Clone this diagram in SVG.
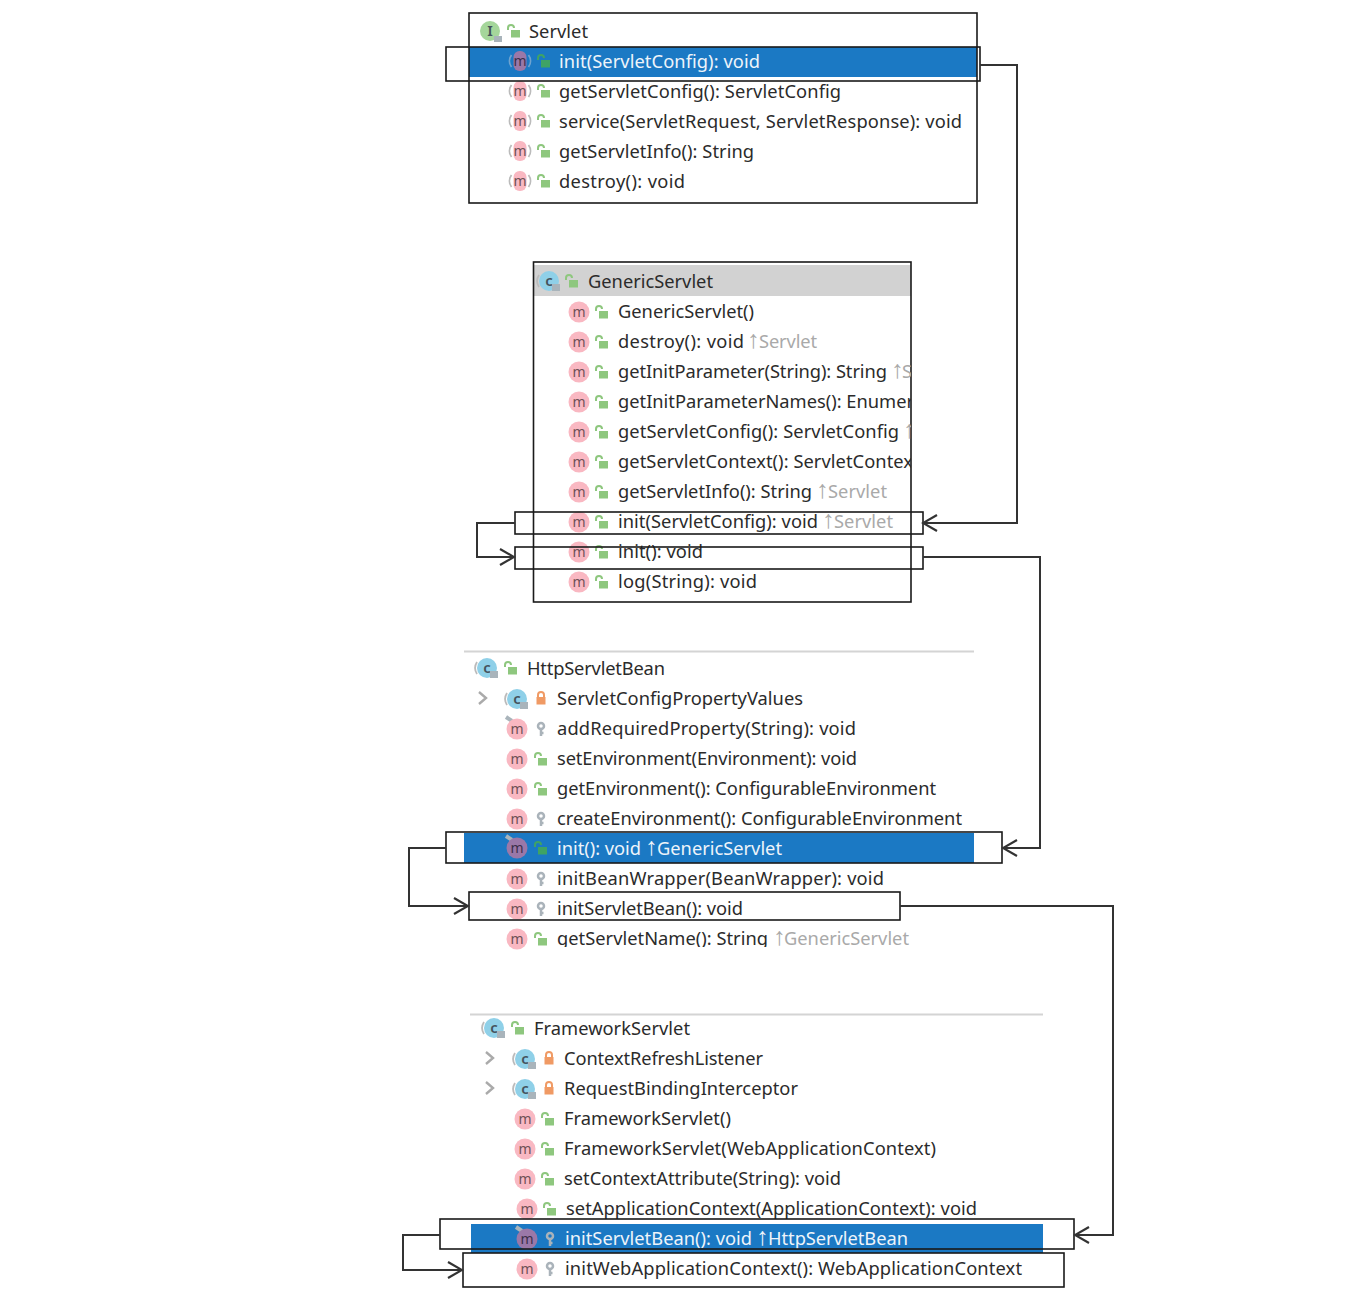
<svg xmlns="http://www.w3.org/2000/svg" width="1371" height="1310" viewBox="0 0 1371 1310">
<style>
text{font-family:"Noto Sans","Liberation Sans",sans-serif;font-size:18.3px;fill:#2b2b2b}
.w{fill:#eef4fa}
.g{fill:#a9a9a9}
.ar{font-family:"Liberation Sans",sans-serif;font-size:25px}
.mt{font-size:14px;fill:#6e5056;text-anchor:middle}
.ct{font-size:15px;font-weight:600;fill:#44525c;text-anchor:middle}
.frame{fill:none;stroke:#1a1a1a;stroke-width:1.6}
.conn{fill:none;stroke:#333;stroke-width:2}
.sep{stroke:#d4d4d4;stroke-width:2}
.blue{fill:#1b79c4}
</style>
<defs>
<marker id="arr" viewBox="0 0 20 20" refX="18" refY="10" markerWidth="20" markerHeight="20" markerUnits="userSpaceOnUse" orient="auto"><path d="M4 2 L18 10 L4 18" fill="none" stroke="#333" stroke-width="2.2"/></marker>
<clipPath id="gc"><rect x="534" y="262" width="377" height="340"/></clipPath>
<clipPath id="hc"><rect x="460" y="925" width="520" height="22"/></clipPath>
<g id="m"><circle r="10.500" fill="#f9b8c2"/><text class="mt" y="4.500">m</text></g>
<g id="mb"><path d="M-8.500 -6 A10 10 0 0 0 -8.500 6" fill="none" stroke="#bbb" stroke-width="1.800"/><path d="M8.500 -6 A10 10 0 0 1 8.500 6" fill="none" stroke="#bbb" stroke-width="1.800"/><rect x="-6.500" y="-10" width="13" height="20" rx="6" fill="#f9b8c2"/><text class="mt" y="4.500">m</text></g>
<g id="ms"><path d="M-8.500 -6 A10 10 0 0 0 -8.500 6" fill="none" stroke="#6fa3cf" stroke-width="1.800"/><path d="M8.500 -6 A10 10 0 0 1 8.500 6" fill="none" stroke="#6fa3cf" stroke-width="1.800"/><rect x="-6.500" y="-10" width="13" height="20" rx="6" fill="#9a78a8"/><text class="mt" y="4.500" style="fill:#3c2f4a">m</text></g>
<g id="mh"><path d="M-11 -12 L-5 -8" stroke="#a9b4bb" stroke-width="4"/><circle r="10.500" fill="#9a78a8"/><text class="mt" y="4.500" style="fill:#3c2f4a">m</text></g>
<g id="mo"><path d="M-11 -12 L-5 -8" stroke="#a9b4bb" stroke-width="4"/><circle r="10.500" fill="#f9b8c2"/><text class="mt" y="4.500">m</text></g>
<g id="u"><path d="M-5 -1 V-3 A3 3 0 0 1 1 -3" fill="none" stroke="#8ec77e" stroke-width="2"/><rect x="-2" y="-1" width="9" height="7.500" fill="#8ec77e"/></g>
<g id="ud"><path d="M-5 -1 V-3 A3 3 0 0 1 1 -3" fill="none" stroke="#3fa364" stroke-width="2"/><rect x="-2" y="-1" width="9" height="7.500" fill="#3fa364"/></g>
<g id="k"><circle cy="-3" r="3" fill="none" stroke="#aab3ba" stroke-width="2.500"/><path d="M0 0 V7 M0 4 H2.500" stroke="#aab3ba" stroke-width="2.500"/></g>
<g id="l"><path d="M-3 -1 V-3 A3 3 0 0 1 3 -3 V-1" fill="none" stroke="#f09a64" stroke-width="2"/><rect x="-4.500" y="-1" width="9" height="7.500" fill="#f09a64"/></g>
<g id="c"><circle r="10" fill="#8fd0e8"/><path d="M-10 -6 A11 11 0 0 0 -10 6" fill="none" stroke="#bbb" stroke-width="1.800"/><text class="ct" y="5">c</text><rect x="3" y="3" width="8" height="7" fill="#a9b4bb"/></g>
<path id="chev" d="M-4 -6 L3 0 L-4 6" fill="none" stroke="#aaa" stroke-width="2.400"/>
</defs>
<rect width="1371" height="1310" fill="#fff"/>

<g id="Servlet">
<rect class="blue" x="469" y="47" width="508" height="30"/>
<rect class="frame" x="469" y="13" width="508" height="190"/>
<circle cx="490" cy="31" r="10" fill="#a5d69b"/><text class="ct" x="490" y="36">I</text><rect x="494" y="36" width="8" height="6" fill="#a9b4bb"/>
<use href="#u" x="513" y="31"/><text x="529" y="37.500" textLength="59">Servlet</text>
<use href="#ms" x="520" y="61"/><use href="#ud" x="543" y="61"/><text class="w" x="559" y="67.500" textLength="201">init(ServletConfig): void</text>
<use href="#mb" x="520" y="91"/><use href="#u" x="543" y="91"/><text x="559" y="97.500" textLength="282">getServletConfig(): ServletConfig</text>
<use href="#mb" x="520" y="121"/><use href="#u" x="543" y="121"/><text x="559" y="127.500" textLength="403">service(ServletRequest, ServletResponse): void</text>
<use href="#mb" x="520" y="151"/><use href="#u" x="543" y="151"/><text x="559" y="157.500" textLength="195">getServletInfo(): String</text>
<use href="#mb" x="520" y="181"/><use href="#u" x="543" y="181"/><text x="559" y="187.500" textLength="126">destroy(): void</text>
<rect class="frame" x="446" y="47" width="534" height="34"/>
</g>

<g id="GenericServlet">
<rect x="534" y="265" width="377" height="31" fill="#d2d2d2"/>
<rect class="frame" x="533.500" y="262" width="377.500" height="340"/>
<use href="#c" x="549" y="281"/><use href="#u" x="571" y="281"/><text x="588" y="287.500" textLength="125">GenericServlet</text>
<g clip-path="url(#gc)">
<use href="#m" x="579" y="312"/><use href="#u" x="601" y="312"/><text x="618" y="317.500" textLength="136">GenericServlet()</text>
<use href="#m" x="579" y="342"/><use href="#u" x="601" y="342"/><text x="618" y="347.500"><tspan textLength="126">destroy(): void</tspan><tspan class="g ar" x="747">↑</tspan><tspan class="g" x="759" textLength="58">Servlet</tspan></text>
<use href="#m" x="579" y="372"/><use href="#u" x="601" y="372"/><text x="618" y="377.500"><tspan textLength="269">getInitParameter(String): String</tspan><tspan class="g ar" x="891">↑</tspan><tspan class="g" x="902">S</tspan></text>
<use href="#m" x="579" y="402"/><use href="#u" x="601" y="402"/><text x="618" y="407.500" textLength="296">getInitParameterNames(): Enumer</text>
<use href="#m" x="579" y="432"/><use href="#u" x="601" y="432"/><text x="618" y="437.500"><tspan textLength="281">getServletConfig(): ServletConfig</tspan><tspan class="g ar" x="903">↑</tspan></text>
<use href="#m" x="579" y="462"/><use href="#u" x="601" y="462"/><text x="618" y="467.500" textLength="295">getServletContext(): ServletContex</text>
<use href="#m" x="579" y="492"/><use href="#u" x="601" y="492"/><text x="618" y="497.500"><tspan textLength="194">getServletInfo(): String</tspan><tspan class="g ar" x="816">↑</tspan><tspan class="g" x="828" textLength="59">Servlet</tspan></text>
<use href="#m" x="579" y="522"/><use href="#u" x="601" y="522"/><text x="618" y="527.500"><tspan textLength="200">init(ServletConfig): void</tspan><tspan class="g ar" x="822">↑</tspan><tspan class="g" x="834" textLength="59">Servlet</tspan></text>
<use href="#m" x="579" y="552"/><use href="#u" x="601" y="552"/><text x="618" y="557.500" textLength="85">init(): void</text>
<use href="#m" x="579" y="582"/><use href="#u" x="601" y="582"/><text x="618" y="587.500" textLength="139">log(String): void</text>
</g>
<rect class="frame" x="515" y="512" width="408" height="22"/>
<rect class="frame" x="515" y="547" width="408" height="22"/>
</g>

<g id="HttpServletBean">
<path class="sep" d="M464 651.500 H974"/>
<rect class="blue" x="464" y="833" width="510" height="30"/>
<use href="#c" x="487" y="668"/><use href="#u" x="510" y="668"/><text x="527" y="674.500" textLength="138">HttpServletBean</text>
<use href="#chev" x="483" y="698"/><use href="#c" x="517" y="699"/><use href="#l" x="541" y="698"/><text x="557" y="704.500" textLength="246">ServletConfigPropertyValues</text>
<use href="#mo" x="517" y="729"/><use href="#k" x="541" y="729"/><text x="557" y="734.500" textLength="299">addRequiredProperty(String): void</text>
<use href="#m" x="517" y="759"/><use href="#u" x="540" y="759"/><text x="557" y="764.500" textLength="300">setEnvironment(Environment): void</text>
<use href="#m" x="517" y="789"/><use href="#u" x="540" y="789"/><text x="557" y="794.500" textLength="379">getEnvironment(): ConfigurableEnvironment</text>
<use href="#m" x="517" y="819"/><use href="#k" x="541" y="819"/><text x="557" y="824.500" textLength="405">createEnvironment(): ConfigurableEnvironment</text>
<use href="#mh" x="517" y="848"/><use href="#ud" x="540" y="848"/><text class="w" x="557" y="854.500"><tspan class="w" textLength="84">init(): void</tspan><tspan class="w ar" x="645">↑</tspan><tspan class="w" x="657" textLength="125">GenericServlet</tspan></text>
<use href="#m" x="517" y="879"/><use href="#k" x="541" y="879"/><text x="557" y="884.500" textLength="327">initBeanWrapper(BeanWrapper): void</text>
<use href="#m" x="517" y="909"/><use href="#k" x="541" y="909"/><text x="557" y="914.500" textLength="186">initServletBean(): void</text>
<use href="#m" x="517" y="939"/><use href="#u" x="540" y="939"/><text clip-path="url(#hc)" x="557" y="944.500"><tspan textLength="211">getServletName(): String</tspan><tspan class="g ar" x="773">↑</tspan><tspan class="g" x="784" textLength="125">GenericServlet</tspan></text>
<rect class="frame" x="446" y="832" width="556" height="31"/>
<rect class="frame" x="469" y="892" width="431" height="28"/>
</g>

<g id="FrameworkServlet">
<path class="sep" d="M470 1014.500 H1043"/>
<rect class="blue" x="471" y="1224" width="572" height="29"/>
<use href="#c" x="494" y="1028"/><use href="#u" x="517" y="1028"/><text x="534" y="1034.500" textLength="156">FrameworkServlet</text>
<use href="#chev" x="490" y="1058"/><use href="#c" x="525" y="1059"/><use href="#l" x="549" y="1058"/><text x="564" y="1064.500" textLength="199">ContextRefreshListener</text>
<use href="#chev" x="490" y="1088"/><use href="#c" x="525" y="1089"/><use href="#l" x="549" y="1088"/><text x="564" y="1094.500" textLength="234">RequestBindingInterceptor</text>
<use href="#m" x="525" y="1119"/><use href="#u" x="547" y="1119"/><text x="564" y="1124.500" textLength="167">FrameworkServlet()</text>
<use href="#m" x="525" y="1149"/><use href="#u" x="547" y="1149"/><text x="564" y="1154.500" textLength="372">FrameworkServlet(WebApplicationContext)</text>
<use href="#m" x="525" y="1179"/><use href="#u" x="547" y="1179"/><text x="564" y="1184.500" textLength="277">setContextAttribute(String): void</text>
<use href="#m" x="527" y="1209"/><use href="#u" x="549" y="1209"/><text x="566" y="1214.500" textLength="411">setApplicationContext(ApplicationContext): void</text>
<use href="#mh" x="527" y="1239"/><use href="#k" x="550" y="1239"/><text class="w" x="565" y="1244.500"><tspan class="w" textLength="187">initServletBean(): void</tspan><tspan class="w ar" x="756">↑</tspan><tspan class="w" x="768" textLength="140">HttpServletBean</tspan></text>
<use href="#m" x="527" y="1269"/><use href="#k" x="550" y="1269"/><text x="565" y="1274.500" textLength="457">initWebApplicationContext(): WebApplicationContext</text>
<rect class="frame" x="440" y="1219" width="634" height="30"/>
<rect class="frame" x="463" y="1253" width="601" height="34"/>
</g>

<g id="connectors">
<path class="conn" marker-end="url(#arr)" d="M980 65 H1017 V523 H923"/>
<path class="conn" marker-end="url(#arr)" d="M515 523 H477 V557 H514"/>
<path class="conn" marker-end="url(#arr)" d="M923 557 H1040 V848 H1003"/>
<path class="conn" marker-end="url(#arr)" d="M446 848 H409 V906 H468"/>
<path class="conn" marker-end="url(#arr)" d="M900 906 H1113 V1235 H1075"/>
<path class="conn" marker-end="url(#arr)" d="M440 1235 H403 V1270 H462"/>
</g>
</svg>
